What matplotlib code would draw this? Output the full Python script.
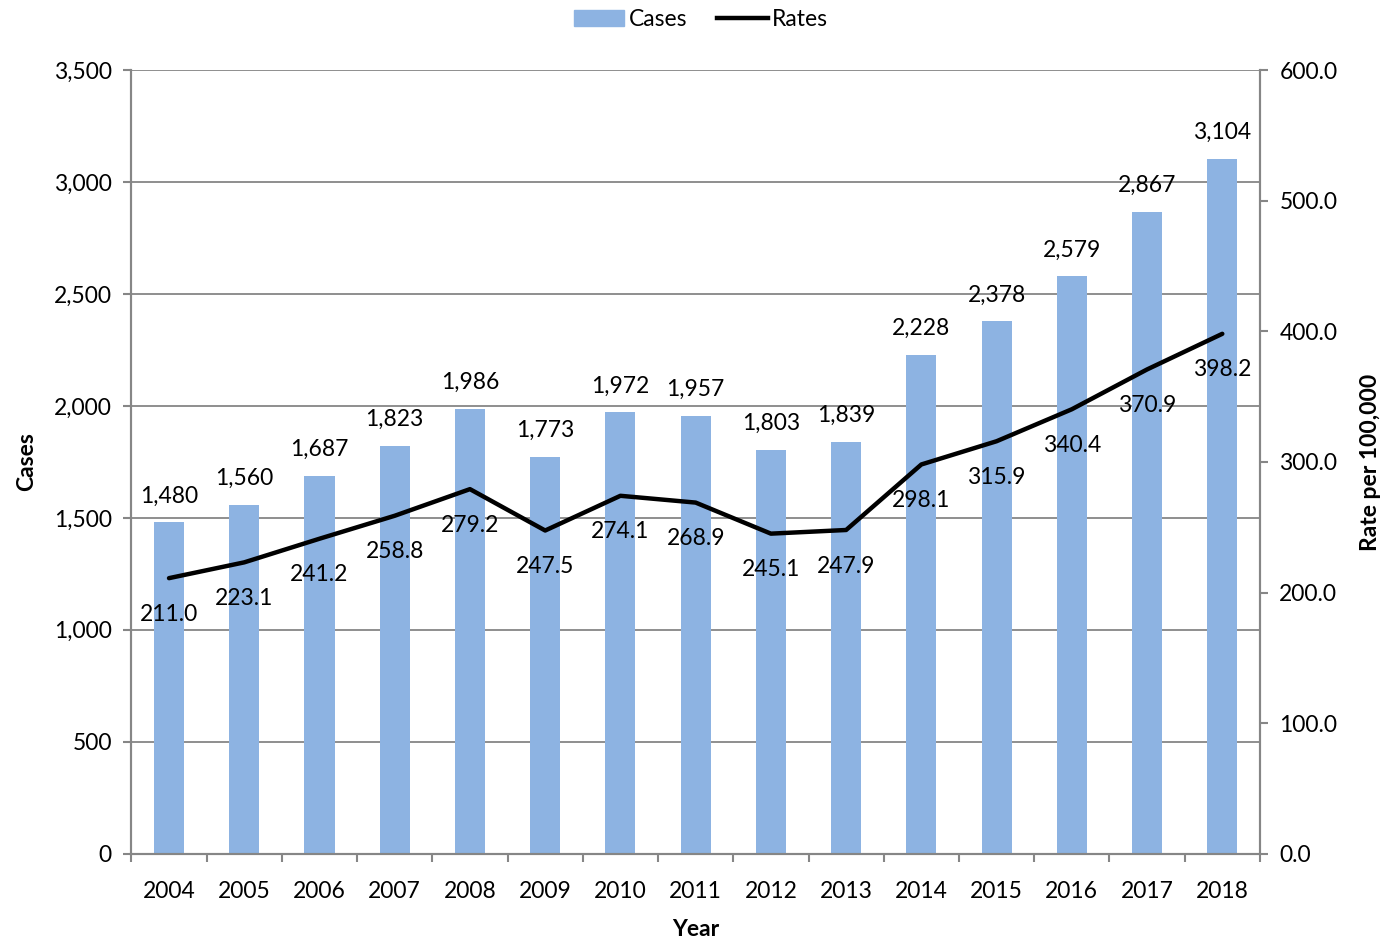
import matplotlib
matplotlib.use("Agg")
import matplotlib.pyplot as plt
from matplotlib.lines import Line2D
from matplotlib.patches import Patch
from matplotlib.ticker import FuncFormatter, MultipleLocator, FixedLocator

# ─── Data ─────────────────────────────────────────────────────────────────────
years = [2004, 2005, 2006, 2007, 2008, 2009, 2010, 2011, 2012, 2013,
         2014, 2015, 2016, 2017, 2018]
cases = [1480, 1560, 1687, 1823, 1986, 1773, 1972, 1957, 1803, 1839,
         2228, 2378, 2579, 2867, 3104]
rates = [211.0, 223.1, 241.2, 258.8, 279.2, 247.5, 274.1, 268.9, 245.1, 247.9,
         298.1, 315.9, 340.4, 370.9, 398.2]

BAR = "#8DB3E2"
AXIS = "#868686"
GRID = "#868686"

plt.rcParams["font.family"] = ["Lato", "DejaVu Sans"]
FS = 16.5

fig, ax = plt.subplots(figsize=(13.83, 9.39), dpi=100)
fig.subplots_adjust(left=0.095, right=0.911, top=0.925, bottom=0.091)
ax2 = ax.twinx()

x = list(range(len(years)))
ax.bar(x, cases, width=0.4, color=BAR, zorder=2)
for xi, c in zip(x, cases):
    ax.annotate(f"{c:,}", (xi, c), xytext=(0, 19), textcoords="offset points",
                ha="center", va="center", fontsize=FS)

ax.set_ylim(0, 3500)
ax.yaxis.set_major_locator(MultipleLocator(500))
ax.yaxis.set_major_formatter(FuncFormatter(lambda v, p: f"{v:,.0f}"))
ax.set_xlim(-0.5, len(years) - 0.5)
ax.set_xticks(x)
ax.set_xticklabels([str(y) for y in years], fontsize=FS)
ax.xaxis.set_minor_locator(FixedLocator([i - 0.5 for i in range(len(years) + 1)]))
ax.tick_params(axis="x", which="major", length=0, pad=20)
ax.tick_params(axis="x", which="minor", length=6, color=AXIS, width=1.5, direction="out")
ax.tick_params(axis="y", length=6, color=AXIS, width=1.5, labelsize=FS, pad=8)
ax.grid(axis="y", color=GRID, linewidth=1.3, zorder=0)
ax.set_axisbelow(True)

ax2.plot(x, rates, color="black", linewidth=3.2, solid_capstyle="round", zorder=5)
for xi, r in zip(x, rates):
    ax2.annotate(f"{r:.1f}", (xi, r), xytext=(0, -26), textcoords="offset points",
                 ha="center", va="center", fontsize=FS)
ax2.set_ylim(0, 600)
ax2.yaxis.set_major_locator(MultipleLocator(100))
ax2.yaxis.set_major_formatter(FuncFormatter(lambda v, p: f"{v:.1f}"))
ax2.tick_params(axis="y", length=6, color=AXIS, width=1.5, labelsize=FS, pad=8)

for a in (ax, ax2):
    a.spines["top"].set_visible(False)
    for s in ("left", "right", "bottom"):
        a.spines[s].set_color(AXIS)
        a.spines[s].set_linewidth(1.5)

ax.set_ylabel("Cases", fontsize=FS, fontweight="bold", labelpad=12)
ax.set_xlabel("Year", fontsize=FS, fontweight="bold", labelpad=12)
ax2.set_ylabel("Rate per 100,000", fontsize=FS, fontweight="bold", labelpad=16)

handles = [Patch(color=BAR, label="Cases"),
           Line2D([0], [0], color="black", linewidth=3.2, label="Rates")]
fig.legend(handles=handles, loc="upper center", bbox_to_anchor=(0.507, 1.012), ncol=2,
           frameon=False, fontsize=FS, handlelength=2.2, handletextpad=0.2,
           columnspacing=1.3)

fig.savefig("out.png", dpi=100)
